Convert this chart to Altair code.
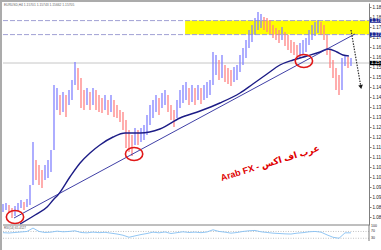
import altair as alt
import pandas as pd

# ---------------- data ----------------
bar_high = [
    1.0865, 1.0870, 1.0860, 1.0845, 1.0855, 1.0870, 1.0885, 1.0875, 1.0890, 1.0960,
    1.1175, 1.1085, 1.1060, 1.1035, 1.1060, 1.1085, 1.1135, 1.1460, 1.1445, 1.1410,
    1.1425, 1.1410, 1.1435, 1.1485, 1.1575, 1.1545, 1.1495, 1.1435, 1.1445, 1.1425,
    1.1445, 1.1435, 1.1410, 1.1395, 1.1410, 1.1385, 1.1410, 1.1385, 1.1360, 1.1335,
    1.1325, 1.1285, 1.1235, 1.1210, 1.1245, 1.1235, 1.1245, 1.1260, 1.1310, 1.1360,
    1.1385, 1.1410, 1.1395, 1.1420, 1.1435, 1.1410, 1.1360, 1.1335, 1.1385, 1.1435,
    1.1460, 1.1475, 1.1445, 1.1460, 1.1445, 1.1460, 1.1445, 1.1460, 1.1475, 1.1485,
    1.1625, 1.1610, 1.1585, 1.1610, 1.1560, 1.1545, 1.1535, 1.1550, 1.1560, 1.1610,
    1.1645, 1.1685, 1.1735, 1.1760, 1.1795, 1.1825, 1.1815, 1.1800, 1.1795, 1.1785,
    1.1760, 1.1745, 1.1735, 1.1750, 1.1725, 1.1710, 1.1685, 1.1675, 1.1660, 1.1670,
    1.1685, 1.1695, 1.1735, 1.1760, 1.1775, 1.1785, 1.1775, 1.1760, 1.1710, 1.1635,
    1.1585, 1.1545, 1.1510, 1.1595, 1.1610, 1.1600, 1.1595,
]
bar_low = [
    1.0825, 1.0835, 1.0820, 1.0795, 1.0805, 1.0830, 1.0845, 1.0835, 1.0850, 1.0860,
    1.0960, 1.0985, 1.0960, 1.0945, 1.0985, 1.0995, 1.1025, 1.1135, 1.1335, 1.1310,
    1.1325, 1.1300, 1.1360, 1.1385, 1.1460, 1.1435, 1.1345, 1.1335, 1.1360, 1.1335,
    1.1360, 1.1335, 1.1325, 1.1320, 1.1335, 1.1310, 1.1325, 1.1300, 1.1295, 1.1275,
    1.1235, 1.1145, 1.1125, 1.1105, 1.1160, 1.1160, 1.1175, 1.1185, 1.1210, 1.1260,
    1.1295, 1.1325, 1.1310, 1.1345, 1.1360, 1.1325, 1.1285, 1.1250, 1.1295, 1.1345,
    1.1370, 1.1385, 1.1360, 1.1375, 1.1360, 1.1385, 1.1365, 1.1385, 1.1395, 1.1410,
    1.1460, 1.1510, 1.1485, 1.1495, 1.1475, 1.1465, 1.1455, 1.1475, 1.1485, 1.1525,
    1.1560, 1.1595, 1.1645, 1.1675, 1.1710, 1.1735, 1.1745, 1.1735, 1.1725, 1.1715,
    1.1695, 1.1685, 1.1670, 1.1685, 1.1655, 1.1635, 1.1620, 1.1610, 1.1600, 1.1595,
    1.1615, 1.1625, 1.1660, 1.1685, 1.1705, 1.1720, 1.1710, 1.1685, 1.1610, 1.1545,
    1.1495, 1.1435, 1.1410, 1.1435, 1.1555, 1.1545, 1.1555,
]
ma_idx = [5.7, 10.7, 14.7, 16.7, 18.3, 22.3, 25.7, 29.0, 32.3, 36.7, 40.7, 45.7, 52.3,
          59.0, 65.7, 72.3, 79.0, 83.3, 88.0, 92.3, 96.7, 101.3, 105.7, 108.3, 111.3,
          113.3, 115.3]
ma_val = [1.0765, 1.0810, 1.0850, 1.0885, 1.0910, 1.1000, 1.1070, 1.1120, 1.1160, 1.1200,
          1.1220, 1.1220, 1.1240, 1.1295, 1.1330, 1.1370, 1.1420, 1.1465, 1.1515, 1.1560,
          1.1585, 1.1605, 1.1625, 1.1640, 1.1625, 1.1610, 1.1605]
trend_idx = [3.67, 117.3]
trend_val = [1.0795, 1.1715]
circle_idx = [4.0, 43.7, 100.3]
circle_val = [1.0800, 1.1115, 1.1580]
zone_prices = [1.1782, 1.1712]
zone_start_idx = 60.7
bid_price = 1.1570
arrow_idx = [116.0, 119.3]
arrow_val = [1.1735, 1.1450]
rsi_val = [
    63, 61, 64, 67, 70, 90, 70, 64, 66, 72,
    68, 70, 74, 64, 62, 66, 63, 65, 60, 55,
    48, 36, 44, 52, 58, 66, 62, 67, 58, 63,
    68, 64, 66, 63, 67, 80, 70, 66, 60, 64,
    70, 74, 76, 68, 64, 60, 58, 56, 55, 60,
    63, 68, 70, 66, 50, 36, 30, 62, 62,
]
rsi_levels = [70, 30]
rsi_ticks = [100, 70, 30]
price_ticks = [1.1850, 1.1800, 1.1750, 1.1700, 1.1650, 1.1600, 1.1550, 1.1500, 1.1450,
               1.1400, 1.1350, 1.1300, 1.1250, 1.1200, 1.1150, 1.1100, 1.1050, 1.1000,
               1.0950, 1.0900, 1.0850, 1.0800]
date_labels = ["8 Jun 2020", "10 Jun 04:00", "12 Jun 08:00", "16 Jun 12:00", "18 Jun 16:00",
               "22 Jun 20:00", "25 Jun 00:00", "29 Jun 04:00", "1 Jul 08:00", "3 Jul 12:00",
               "7 Jul 16:00", "9 Jul 20:00", "14 Jul 00:00", "16 Jul 04:00", "20 Jul 08:00",
               "22 Jul 12:00", "24 Jul 16:00", "30 Jul 20:00", "3 Aug 00:00"]
box_labels = ["1.17820", "1.17120", "1.15700"]
watermark = "Arab FX - عرب اف اكس"
caption = "EURUSD,H4  1.15701 1.15743 1.15662 1.15705"
rsi_caption = "RSI(14) 65.4527"

# ---------------- layout / scales ----------------
W, H = 366, 238
XMAX = 122
DATE_STEP = 6.4
FONT = "Liberation Sans, DejaVu Sans"

xs = alt.Scale(domain=[0, XMAX], nice=False, zero=False)
ys = alt.Scale(domain=[1.0760, 1.1870], range=[222, 0], nice=False, zero=False)
rs = alt.Scale(domain=[14, 108], range=[238, 222], nice=False, zero=False)

date_pos = [i * DATE_STEP for i in range(len(date_labels))]
label_expr = "[" + ",".join("'%s'" % d for d in date_labels) + "][round(datum.value / %s)]" % DATE_STEP

x_axis = alt.Axis(values=date_pos, labelExpr=label_expr, labelFontSize=2.8, labelAlign="left",
                  tickSize=2, labelPadding=1, domainColor="#7f7f7f", tickColor="#7f7f7f",
                  labelColor="#222", grid=False, title=None, labelOverlap=False, labelFlush=False,
                  labelFont=FONT)
price_axis = alt.Axis(orient="right", values=price_ticks, format=".4f", labelFontSize=4.5,
                      tickSize=2, labelPadding=1, domainColor="#7f7f7f", tickColor="#7f7f7f",
                      labelColor="#222", grid=False, title=None, labelOverlap=False,
                      labelFlush=False, labelBound=False, labelFont=FONT)


def X(f, axis=None):
    return alt.X(f, type="quantitative", scale=xs, axis=axis)


def Y(f, axis=None):
    return alt.Y(f, type="quantitative", scale=ys, axis=axis)


def R(f):
    return alt.Y(f, type="quantitative", scale=rs, axis=None)


# ---------------- data frames ----------------
mids = [(h + l) / 2 for h, l in zip(bar_high, bar_low)]
dirs = ["up"] + ["up" if mids[i] >= mids[i - 1] else "down" for i in range(1, len(mids))]
bars = pd.DataFrame({"idx": list(range(len(bar_high))), "high": bar_high, "low": bar_low, "dir": dirs})
ma = pd.DataFrame({"idx": ma_idx, "p": ma_val})
trend = pd.DataFrame({"idx": trend_idx, "p": trend_val})
circles = pd.DataFrame({"idx": circle_idx, "p": circle_val})
zone = pd.DataFrame({"x": [zone_start_idx], "x2": [XMAX], "p1": [zone_prices[1]], "p2": [zone_prices[0]]})
dashes = pd.DataFrame({"x": [0, 0], "x2": [XMAX, XMAX], "p": zone_prices})
bid = pd.DataFrame({"x": [0], "x2": [XMAX], "p": [bid_price]})
arrow = pd.DataFrame({"idx": arrow_idx, "p": arrow_val})
arrow_head = arrow.tail(1)
boxes = pd.DataFrame({"p": zone_prices + [bid_price], "lab": box_labels,
                      "fill": ["#1c2490", "#1c2490", "#000000"]})
boxes["p1"] = boxes["p"] - 0.0011
boxes["p2"] = boxes["p"] + 0.0011
boxes["x"] = XMAX + 0.3
boxes["x2"] = XMAX + 5
boxes["xt"] = XMAX + 0.7
rsi = pd.DataFrame({"idx": list(range(0, 2 * len(rsi_val), 2)), "v": rsi_val})
rsi_lv = pd.DataFrame({"x": [0, 0], "x2": [XMAX, XMAX], "v": rsi_levels})
rsi_lab = pd.DataFrame({"x": [XMAX + 0.7] * 3, "v": rsi_ticks, "t": [str(t) for t in rsi_ticks]})
rsi_border = pd.DataFrame({"x": [XMAX], "v": [14], "v2": [108]})
sep = pd.DataFrame({"x": [0], "x2": [XMAX], "p": [1.0760]})
frame_left = pd.DataFrame({"x": [-1.2], "x2": [-0.33], "p1": [1.0], "p2": [1.3]})
frame_top = pd.DataFrame({"x": [-2], "x2": [XMAX + 10], "p1": [1.18755], "p2": [1.3]})
texts = pd.DataFrame({"x": [0.3], "p": [1.1862], "t": [caption]})
wm = pd.DataFrame({"x": [89.0], "p": [1.1070], "t": [watermark]})
rsi_cap = pd.DataFrame({"x": [0.3], "v": [92], "t": [rsi_caption]})

ellipse = "M -1 0 A 1 0.75 0 1 1 1 0 A 1 0.75 0 1 1 -1 0 Z"

layers = [
    alt.Chart(frame_left).mark_rect(color="#ababab").encode(x=X("x"), x2="x2", y=Y("p1"), y2="p2"),
    alt.Chart(frame_top).mark_rect(color="#ababab").encode(x=X("x"), x2="x2", y=Y("p1"), y2="p2"),
    alt.Chart(zone).mark_rect(color="#ffff00").encode(x=X("x"), x2="x2", y=Y("p1"), y2="p2"),
    alt.Chart(dashes).mark_rule(color="#a0a0d4", strokeDash=[5, 2], strokeWidth=1).encode(
        x=X("x"), x2="x2", y=Y("p")),
    alt.Chart(bid).mark_rule(color="#c6c6c6", strokeWidth=1).encode(x=X("x"), x2="x2", y=Y("p")),
    alt.Chart(bars).mark_rule(strokeWidth=1.3).encode(
        x=X("idx", x_axis), y=Y("low", price_axis), y2="high",
        color=alt.Color("dir:N", scale=alt.Scale(domain=["up", "down"], range=["#8282ff", "#ff8282"]),
                        legend=None)),
    alt.Chart(ma).mark_line(color="#1c1c86", strokeWidth=1.4, interpolate="monotone").encode(
        x=X("idx"), y=Y("p")),
    alt.Chart(trend).mark_line(color="#2a2a9c", strokeWidth=0.9).encode(x=X("idx"), y=Y("p")),
    alt.Chart(circles).mark_point(shape=ellipse, size=300, filled=False, color="#e01818",
                                  strokeWidth=1.6, opacity=1).encode(x=X("idx"), y=Y("p")),
    alt.Chart(arrow).mark_line(color="#303030", strokeDash=[1.5, 1.2], strokeWidth=1.2).encode(
        x=X("idx"), y=Y("p")),
    alt.Chart(arrow_head).mark_point(shape="triangle-down", filled=True, size=22, angle=350,
                                     color="#1a1a1a", opacity=1).encode(x=X("idx"), y=Y("p")),
    alt.Chart(wm).mark_text(angle=343, fontSize=9, fontWeight="bold", color="#e00000",
                            font=FONT).encode(x=X("x"), y=Y("p"), text="t:N"),
    alt.Chart(texts).mark_text(align="left", baseline="middle", fontSize=3.3, color="#666666",
                               font=FONT).encode(x=X("x"), y=Y("p"), text="t:N"),
    alt.Chart(boxes).mark_rect().encode(x=X("x"), x2="x2", y=Y("p1"), y2="p2",
                                        color=alt.Color("fill:N", scale=None)),
    alt.Chart(boxes).mark_text(align="left", baseline="middle", fontSize=4.5, color="white",
                               font=FONT).encode(x=X("xt"), y=Y("p"), text="lab:N"),
    alt.Chart(sep).mark_rule(color="#7f7f7f", strokeWidth=1).encode(x=X("x"), x2="x2", y=Y("p")),
    alt.Chart(rsi_lv).mark_rule(color="#b4b4b4", strokeDash=[1, 1.5], strokeWidth=0.8).encode(
        x=X("x"), x2="x2", y=R("v")),
    alt.Chart(rsi).mark_line(color="#86bff2", strokeWidth=0.9).encode(x=X("idx"), y=R("v")),
    alt.Chart(rsi_border).mark_rule(color="#7f7f7f", strokeWidth=1).encode(x=X("x"), y=R("v"), y2="v2"),
    alt.Chart(rsi_lab).mark_text(align="left", baseline="middle", fontSize=3.5, color="#222",
                                 font=FONT).encode(x=X("x"), y=R("v"), text="t:N"),
    alt.Chart(rsi_cap).mark_text(align="left", baseline="middle", fontSize=3, color="#555555",
                                 font=FONT).encode(x=X("x"), y=R("v"), text="t:N"),
]

chart = (
    alt.layer(*layers)
    .resolve_scale(y="independent")
    .properties(width=W, height=H, background="white",
                padding={"left": 3, "top": 3, "right": 12, "bottom": 9},
                autosize=alt.AutoSizeParams(type="none"))
    .configure_view(stroke=None)
)

chart.save("out.html", embed_options={"renderer": "svg", "actions": False})
